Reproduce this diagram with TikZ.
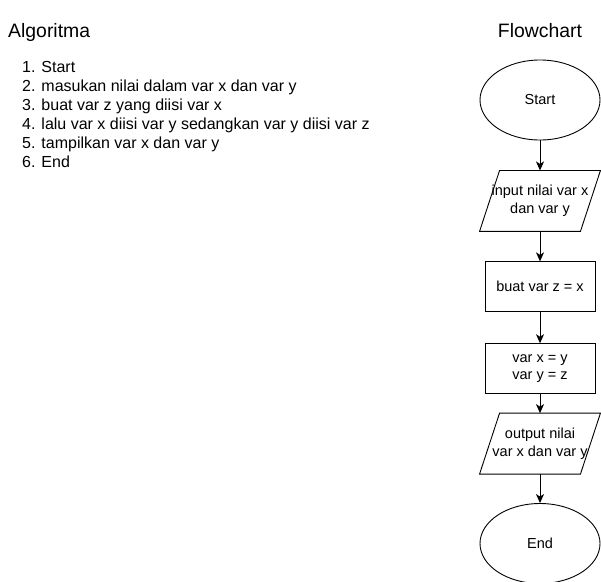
\documentclass[tikz,border=0pt]{standalone}
\usepackage{fontspec}
\setmainfont{Liberation Sans}
\usetikzlibrary{shapes.geometric, arrows.meta, positioning}

\begin{document}
\begin{tikzpicture}[x=1pt, y=-1pt,
    title/.style={inner sep=0pt, font=\fontsize{19.4}{23}\selectfont},
    algline/.style={anchor=base west, inner sep=0pt, font=\fontsize{16}{19}\selectfont},
    fc/.style={align=center, line width=0.9pt, inner sep=0pt, font=\fontsize{14.5}{17.5}\selectfont},
    terminal/.style={fc, draw, ellipse, minimum width=120pt, minimum height=80pt},
    process/.style={fc, draw, rectangle, minimum width=110pt, minimum height=50pt},
    iobox/.style={fc, rectangle, minimum width=100pt, minimum height=60pt},
    arrow/.style={-{Stealth[length=9pt, width=8pt, inset=2.5pt]}, line width=1pt}]
    \def\slant{10}

    \useasboundingbox (0,0) rectangle (601,581);

    % titles
    \node[title, anchor=base west] (algtitle) at (8,37.5) {Algoritma};
    \node[title, anchor=base] (fctitle) at (540,37.5) {Flowchart};

    % algoritma
    \foreach \txt [count=\i] in {Start, masukan nilai dalam var x dan var y,
        buat var z yang diisi var x, lalu var x diisi var y sedangkan var y diisi var z,
        tampilkan var x dan var y, End}
      \node[algline] (alg\i) at (22,53.5+19*\i) {\i. \txt};

    % flowchart
    \node[terminal] (start) at (540,100) {Start};
    \node[iobox, below=30pt of start] (input) {input nilai var x\\dan var y};
    \node[process, below=30pt of input] (buat) {buat var z = x};
    \node[process, below=31pt of buat] (tukar) {var x = y\\var y = z};
    \node[iobox, below=19pt of tukar] (output) {output nilai\\var x dan var y};
    \node[terminal, below=29pt of output] (end) {End};

    \draw[line width=0.9pt] ([xshift=-\slant pt]input.south west) -- ([xshift=-\slant pt]input.south east)
      -- ([xshift=\slant pt]input.north east) -- ([xshift=\slant pt]input.north west) -- cycle;
    \draw[line width=0.9pt] ([xshift=-\slant pt]output.south west) -- ([xshift=-\slant pt]output.south east)
      -- ([xshift=\slant pt]output.north east) -- ([xshift=\slant pt]output.north west) -- cycle;

    \draw[arrow] (start) -- (input);
    \draw[arrow] (input) -- (buat);
    \draw[arrow] (buat) -- (tukar);
    \draw[arrow] (tukar) -- (output);
    \draw[arrow] (output) -- (end);
\end{tikzpicture}
\end{document}
